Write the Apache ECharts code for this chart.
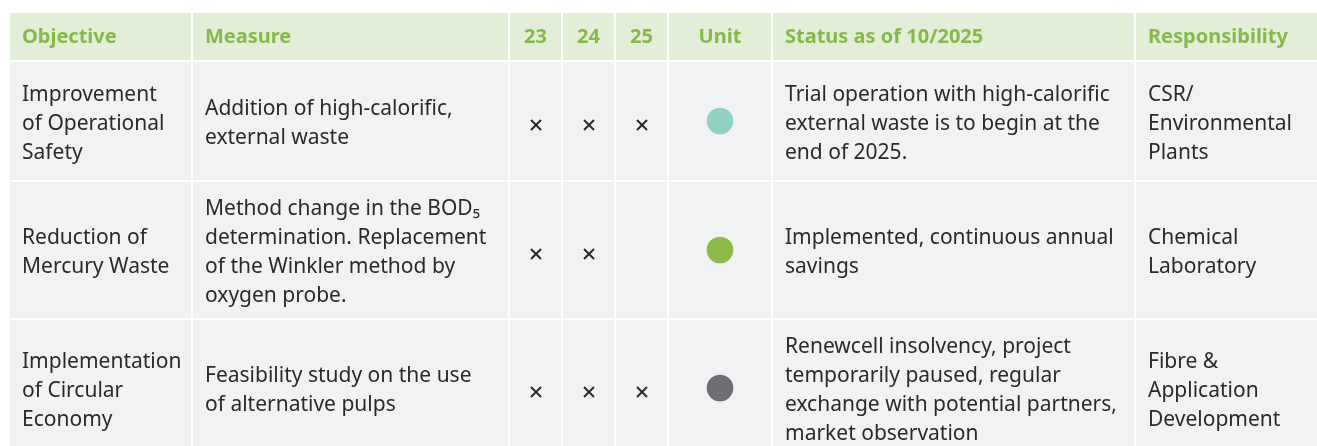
<!DOCTYPE html>
<html><head><meta charset="utf-8">
<script src="https://cdn.jsdelivr.net/npm/echarts@6/dist/echarts.min.js"></script>
<style>html,body{margin:0;padding:0;background:#fff}#c{width:1317px;height:446px}</style>
</head><body><div id="c"></div>
<script>
// ---- data ----
const headers = ['Objective', 'Measure', '23', '24', '25', 'Unit', 'Status as of 10/2025', 'Responsibility'];
const objectives = ['Improvement\nof Operational\nSafety', 'Reduction of\nMercury Waste', 'Implementation\nof Circular\nEconomy'];
const measures = ['Addition of high-calorific,\nexternal waste', 'Method change in the BOD₅\ndetermination. Replacement\nof the Winkler method by\noxygen probe.', 'Feasibility study on the use\nof alternative pulps'];
const year23 = [true, true, true];
const year24 = [true, true, true];
const year25 = [true, false, true];
const unitStatus = ['planned', 'achieved', 'paused'];
const statuses = ['Trial operation with high-calorific\nexternal waste is to begin at the\nend of 2025.', 'Implemented, continuous annual\nsavings', 'Renewcell insolvency, project\ntemporarily paused, regular\nexchange with potential partners,\nmarket observation'];
const responsibilities = ['CSR/\nEnvironmental\nPlants', 'Chemical\nLaboratory', 'Fibre &\nApplication\nDevelopment'];

// ---- layout / style ----
const colEdges = [10, 192, 509, 562, 615, 668, 772, 1135, 1330];
const rowEdges = [[13, 60], [62, 180], [182, 318], [320, 456]];
const colAlign = ['left', 'left', 'center', 'center', 'center', 'center', 'left', 'left'];
const unitColors = { planned: '#93d0c4', achieved: '#8cbb4a', paused: '#6d6e72' };
const FONT = '"Noto Sans", sans-serif';

// build cells
const cells = [];
headers.forEach((h, c) => cells.push({ c, r: 0, kind: 'header', text: h }));
objectives.forEach((_, i) => {
  const r = i + 1;
  cells.push({ c: 0, r, kind: 'text', text: objectives[i] });
  cells.push({ c: 1, r, kind: 'text', text: measures[i] });
  cells.push({ c: 2, r, kind: 'cross', on: year23[i] });
  cells.push({ c: 3, r, kind: 'cross', on: year24[i] });
  cells.push({ c: 4, r, kind: 'cross', on: year25[i] });
  cells.push({ c: 5, r, kind: 'dot', color: unitColors[unitStatus[i]] });
  cells.push({ c: 6, r, kind: 'text', text: statuses[i] });
  cells.push({ c: 7, r, kind: 'text', text: responsibilities[i] });
});

function renderItem(params, api) {
  const cell = cells[params.dataIndex];
  const c = api.value(0), r = api.value(1);
  const p0 = api.coord([colEdges[c], rowEdges[r][0]]);
  const p1 = api.coord([colEdges[c + 1], rowEdges[r][1]]);
  const x0 = p0[0] + (c === 0 ? 0 : 1), x1 = p1[0] - 1;
  const y0 = p0[1], y1 = p1[1];
  const cy = (y0 + y1) / 2;
  const children = [{
    type: 'rect',
    shape: { x: x0, y: y0, width: x1 - x0, height: y1 - y0 },
    style: { fill: cell.kind === 'header' ? '#e3eed8' : '#f1f2f4' }
  }];
  const tx = colAlign[c] === 'left' ? x0 + 12 : (x0 + x1) / 2;
  if (cell.kind === 'header') {
    children.push({ type: 'text', style: { text: cell.text, x: tx, y: cy + 0.5, align: colAlign[c], verticalAlign: 'middle',
      fill: '#85ba4a', fontFamily: FONT, fontSize: 20, fontWeight: 'bold' } });
  } else if (cell.kind === 'text') {
    children.push({ type: 'text', style: { text: cell.text, x: tx, y: cy + 3, align: 'left', verticalAlign: 'middle',
      fill: '#2a2a2a', fontFamily: FONT, fontSize: 21, lineHeight: 29 } });
  } else if (cell.kind === 'cross' && cell.on) {
    const ccx = Math.round(tx), ccy = Math.round(cy) + 4, h = 5;
    children.push({ type: 'polyline', shape: { points: [[ccx - h, ccy - h], [ccx + h, ccy + h]] }, style: { stroke: '#2a2a2a', lineWidth: 2 } });
    children.push({ type: 'polyline', shape: { points: [[ccx - h, ccy + h], [ccx + h, ccy - h]] }, style: { stroke: '#2a2a2a', lineWidth: 2 } });
  } else if (cell.kind === 'dot') {
    children.push({ type: 'circle', shape: { cx: tx, cy: cy, r: 13.3 }, style: { fill: cell.color } });
  }
  return { type: 'group', children };
}

const chart = echarts.init(document.getElementById('c'));
chart.setOption({
  animation: false,
  backgroundColor: '#ffffff',
  grid: { left: 0, right: 0, top: 0, bottom: 0 },
  xAxis: { type: 'value', min: 0, max: 1317, show: false },
  yAxis: { type: 'value', min: 0, max: 446, inverse: true, show: false },
  series: [{
    type: 'custom',
    clip: true,
    renderItem,
    encode: { x: 0, y: 1 },
    data: cells.map(d => [d.c, d.r])
  }]
});
</script>
</body></html>
